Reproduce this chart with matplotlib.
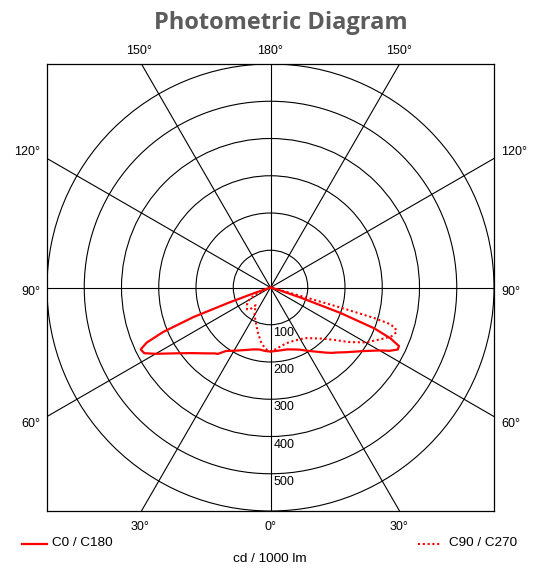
import numpy as np
import matplotlib
matplotlib.use("Agg")
import matplotlib.pyplot as plt
from matplotlib.patches import Circle
from matplotlib.lines import Line2D

plt.rcParams['font.family'] = ['Liberation Sans', 'DejaVu Sans']

# ---- data (cd / 1000 lm), angles in degrees from nadir ----
angles_c0 = [0, 5, 10, 15, 20, 25, 30, 35, 40, 43, 45, 50, 55, 60, 62, 64, 65.5, 67, 68.5, 70, 71.5, 73, 75, 90]
c0 = [172, 171, 171, 172, 177, 184, 196, 210, 228, 240, 247, 270, 298, 338, 362, 380, 379, 350, 300, 200, 85, 25, 0, 0]

angles_c180 = [0, 5, 10, 15, 20, 25, 30, 35, 37, 38.5, 40, 45, 50, 55, 60, 62.5, 64.5, 66, 67.5, 69, 70, 71, 73, 90]
c180 = [172, 171, 169, 172, 178, 186, 196, 208, 219, 228, 231, 250, 274, 308, 356, 382, 386, 364, 312, 222, 120, 45, 0, 0]

angles_c90 = [0, 5, 10, 15, 20, 25, 30, 35, 40, 45, 50, 55, 60, 65, 68, 70.5, 72, 73, 73.6, 74, 74.3, 74.6, 76, 90]
c90 = [172, 166, 160, 156, 155, 157, 160, 166, 178, 194, 218, 255, 295, 328, 350, 359, 352, 335, 290, 200, 100, 30, 0, 0]

angles_c270 = [0, 5, 10, 15, 20, 25, 30, 35, 40, 43, 47, 50, 54, 58, 62, 65, 67, 69, 90]
c270 = [172, 165, 148, 128, 110, 96, 86, 72, 62, 80, 86, 82, 78, 72, 60, 40, 15, 0, 0]

ring_values = [100, 200, 300, 400, 500, 600]
ring_labels = ["100", "200", "300", "400", "500"]
spoke_angles = [0, 30, 60, 90, 120, 150]
rmax = 600

W, H = 538, 568
fig = plt.figure(figsize=(W / 100, H / 100), dpi=100)
ax = fig.add_axes([47 / W, 1 - 511 / H, 447 / W, 447 / H])
ax.set_xlim(-rmax, rmax)
ax.set_ylim(-rmax, rmax)
ax.set_xticks([])
ax.set_yticks([])
for s in ax.spines.values():
    s.set_linewidth(0.9)
    s.set_color('black')

# grid
for rv in ring_values:
    ax.add_patch(Circle((0, 0), rv, fill=False, lw=0.8, color='black', zorder=1))
for a in spoke_angles:
    t = np.radians(a)
    ax.plot([-1000 * np.sin(t), 1000 * np.sin(t)], [-1000 * np.cos(t), 1000 * np.cos(t)],
            color='black', lw=0.8, zorder=1)


def to_xy(angles, vals, side):
    t = np.radians(np.asarray(angles, dtype=float))
    r = np.asarray(vals, dtype=float)
    return side * r * np.sin(t), -r * np.cos(t)


# dotted C90 (right) / C270 (left)
x2, y2 = to_xy(angles_c90, c90, 1)
x3, y3 = to_xy(angles_c270, c270, -1)
ax.plot(np.concatenate([x3[::-1], x2]), np.concatenate([y3[::-1], y2]),
        color='#ff0000', lw=1.5, ls=(0, (1, 1.3)), zorder=3)
# solid C0 (right) / C180 (left)
x0, y0 = to_xy(angles_c0, c0, 1)
x1, y1 = to_xy(angles_c180, c180, -1)
ax.plot(np.concatenate([x1[::-1], x0]), np.concatenate([y1[::-1], y0]),
        color='#ff0000', lw=1.6, zorder=3, solid_joinstyle='round')

# radial labels
for rv, lab in zip(ring_values, ring_labels):
    ax.annotate(lab, xy=(0, -rv), xytext=(3, -8), textcoords='offset pixels',
                ha='left', va='center', fontsize=9, annotation_clip=False, zorder=4)

# angle labels
fs = 9
tan30 = np.tan(np.radians(30))
ax.annotate("150°", xy=(-rmax * tan30, rmax), xytext=(-2, 13), textcoords='offset pixels', ha='center', va='center', fontsize=fs, annotation_clip=False)
ax.annotate("180°", xy=(0, rmax), xytext=(0, 13), textcoords='offset pixels', ha='center', va='center', fontsize=fs, annotation_clip=False)
ax.annotate("150°", xy=(rmax * tan30, rmax), xytext=(-1, 13), textcoords='offset pixels', ha='center', va='center', fontsize=fs, annotation_clip=False)
ax.annotate("30°", xy=(-rmax * tan30, -rmax), xytext=(-1, -16), textcoords='offset pixels', ha='center', va='center', fontsize=fs, annotation_clip=False)
ax.annotate("0°", xy=(0, -rmax), xytext=(0, -16), textcoords='offset pixels', ha='center', va='center', fontsize=fs, annotation_clip=False)
ax.annotate("30°", xy=(rmax * tan30, -rmax), xytext=(-1, -16), textcoords='offset pixels', ha='center', va='center', fontsize=fs, annotation_clip=False)
for lab, yv, dy in [("120°", rmax * tan30, 6.5), ("90°", 0, -4.5), ("60°", -rmax * tan30, -7.5)]:
    ax.annotate(lab, xy=(-rmax, yv), xytext=(-7, dy), textcoords='offset pixels', ha='right', va='center', fontsize=fs, annotation_clip=False)
    ax.annotate(lab, xy=(rmax, yv), xytext=(7, dy), textcoords='offset pixels', ha='left', va='center', fontsize=fs, annotation_clip=False)

# title
fig.text(281 / W, 1 - 29.3 / H, "Photometric Diagram", ha='center', va='baseline',
         fontsize=17, color='#5c5c5c', fontweight='bold', family=['Open Sans', 'DejaVu Sans'])

# legend
ly = 1 - 543.5 / H
fig.add_artist(Line2D([22 / W, 47 / W], [ly, ly], color='#ff0000', lw=1.6))
fig.text(52 / W, ly, "C0 / C180", ha='left', va='center', fontsize=9.7)
fig.add_artist(Line2D([418 / W, 441 / W], [ly, ly], color='#ff0000', lw=1.5, ls=(0, (1, 1.3))))
fig.text(449 / W, ly, "C90 / C270", ha='left', va='center', fontsize=9.7)
fig.text(270 / W, 1 - 559 / H, "cd / 1000 lm", ha='center', va='center', fontsize=9.7)

fig.savefig("out.png", dpi=100, facecolor='white')
